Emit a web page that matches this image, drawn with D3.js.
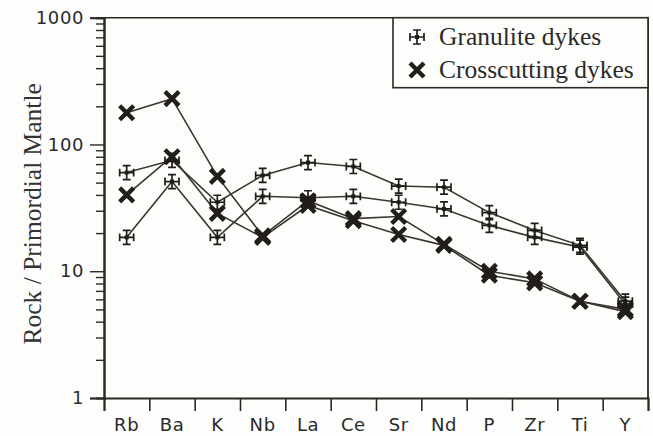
<!DOCTYPE html>
<html>
<head>
<meta charset="utf-8">
<script src="https://cdn.jsdelivr.net/npm/d3@7/dist/d3.min.js"></script>
<style>
  html, body { margin: 0; padding: 0; background: #fdfdfb; }
  svg { display: block; }
</style>
</head>
<body>
<svg id="chart" width="653" height="436"></svg>
<script>
// Trace elements, normalised to primordial mantle
const categories = ["Rb", "Ba", "K", "Nb", "La", "Ce", "Sr", "Nd", "P", "Zr", "Ti", "Y"];

// Granulite dykes (two samples)
const granulite1 = [60, 75, 35, 57, 72, 67, 47, 46, 29, 21, 16, 5.8];
const granulite2 = [18.5, 51, 18.5, 39, 38, 39, 35, 31, 23, 18.5, 15.5, 5.5];

// Crosscutting dykes (two samples)
const crosscut1 = [178, 230, 56, 19, 36, 26, 27, 16.3, 10, 8.7, 5.8, 5.0];
const crosscut2 = [40, 80, 28.6, 18.5, 33, 25, 19.5, 16, 9.3, 8.1, 5.8, 4.8];

const majorTicks = [1, 10, 100, 1000];
const legendLabels = ["Granulite dykes", "Crosscutting dykes"];

const svg = d3.select("#chart");
const plotLeft = 104, plotRight = 648, plotTop = 17.7, plotBottom = 398;
const ink = "#2b2824";

const x = d3.scaleBand().domain(categories).range([plotLeft, plotRight]);
const xEdge = d3.scaleLinear().domain([0, categories.length]).range([plotLeft, plotRight]);
const y = d3.scaleLog().domain([1, 1000]).range([plotBottom, plotTop]);

// Frame: top and right edges
svg.append("line").attr("x1", plotLeft).attr("x2", plotRight).attr("y1", plotTop).attr("y2", plotTop)
  .attr("stroke", ink).attr("stroke-width", 1.6);
svg.append("line").attr("x1", plotRight).attr("x2", plotRight).attr("y1", plotTop).attr("y2", plotBottom)
  .attr("stroke", ink).attr("stroke-width", 1.8);

// Minor log ticks
const minorTicks = [];
for (const dec of [1, 10, 100]) for (let m = 2; m <= 9; m++) minorTicks.push(dec * m);

const yMinor = svg.append("g").attr("transform", `translate(${plotLeft},0)`)
  .call(d3.axisLeft(y).tickValues(minorTicks).tickSize(8).tickFormat(""));
const yMajor = svg.append("g").attr("transform", `translate(${plotLeft},0)`)
  .call(d3.axisLeft(y).tickValues(majorTicks).tickSize(14).tickPadding(6).tickFormat(d3.format("d")));
[yMinor, yMajor].forEach(g => {
  g.select(".domain").attr("stroke", ink).attr("stroke-width", 2);
  g.selectAll(".tick line").attr("stroke", ink).attr("stroke-width", 1.4);
});
yMajor.selectAll(".tick text")
  .attr("font-family", "DejaVu Sans, sans-serif").attr("font-size", 18)
  .attr("letter-spacing", 0.6).attr("fill", "#2a2a2a");

// Bottom axis: ticks at category boundaries, labels centred in each band
const xTicks = svg.append("g").attr("transform", `translate(0,${plotBottom})`)
  .call(d3.axisBottom(xEdge).tickValues(d3.range(categories.length + 1)).tickSize(13).tickFormat(""));
xTicks.select(".domain").attr("stroke", ink).attr("stroke-width", 2);
xTicks.selectAll(".tick line").attr("stroke", ink).attr("stroke-width", 1.6);

const xLabels = svg.append("g").attr("transform", `translate(0,${plotBottom})`)
  .call(d3.axisBottom(x).tickSize(0).tickPadding(20));
xLabels.select(".domain").remove();
xLabels.selectAll(".tick text")
  .attr("font-family", "DejaVu Sans, sans-serif").attr("font-size", 18)
  .attr("letter-spacing", 0.6).attr("fill", "#2a2a2a");

// Y axis title
svg.append("text")
  .attr("transform", `translate(41,${(plotTop + plotBottom) / 2 + 6}) rotate(-90)`)
  .attr("text-anchor", "middle")
  .attr("font-family", "Liberation Serif, serif")
  .attr("font-size", 25.5).attr("fill", "#333")
  .text("Rock / Primordial Mantle");

// Marker shapes
const crossPatteePath = (s) => {
  const h = s / 2, b = s * 0.28;
  return `M${-h},0H${h}M0,${-h}V${h}` +
         `M${-h},${-b}V${b}M${h},${-b}V${b}` +
         `M${-b},${-h}H${b}M${-b},${h}H${b}`;
};
const xMarkPath = (s) => {
  const h = s / 2;
  return `M${-h},${-h}L${h},${h}M${-h},${h}L${h},${-h}`;
};

function drawMarker(g, type, cx, cy) {
  if (type === "granulite") {
    g.append("path").attr("d", crossPatteePath(14))
      .attr("transform", `translate(${cx},${cy})`)
      .attr("fill", "none").attr("stroke", "#1f1c19").attr("stroke-width", 1.7);
    g.append("rect").attr("x", cx - 2).attr("y", cy - 2).attr("width", 4).attr("height", 4)
      .attr("fill", "#1f1c19");
  } else {
    g.append("path").attr("d", xMarkPath(14))
      .attr("transform", `translate(${cx},${cy})`)
      .attr("fill", "none").attr("stroke", "#221f1b").attr("stroke-width", 4.4)
      .attr("stroke-linecap", "butt");
  }
}

const series = [
  { values: crosscut1, type: "cross" },
  { values: crosscut2, type: "cross" },
  { values: granulite1, type: "granulite" },
  { values: granulite2, type: "granulite" }
];

const line = d3.line()
  .x((d, i) => x(categories[i]) + x.bandwidth() / 2)
  .y(d => y(d));

const plot = svg.append("g");
series.forEach(s => {
  plot.append("path").datum(s.values).attr("d", line)
    .attr("fill", "none").attr("stroke", "#3a3631").attr("stroke-width", 1.6);
});
series.forEach(s => {
  const g = plot.append("g");
  s.values.forEach((v, i) => drawMarker(g, s.type, x(categories[i]) + x.bandwidth() / 2, y(v)));
});

// Legend
const legend = svg.append("g");
legend.append("rect").attr("x", 393).attr("y", plotTop).attr("width", plotRight - 393).attr("height", 70)
  .attr("fill", "#fdfdfb").attr("stroke", ink).attr("stroke-width", 1.6);
const legendTypes = ["granulite", "cross"];
legendLabels.forEach((lab, i) => {
  const cy = 37 + i * 33;
  drawMarker(legend, legendTypes[i], 417, cy);
  legend.append("text").attr("x", 439).attr("y", cy + 8)
    .attr("font-family", "Liberation Serif, serif")
    .attr("font-size", 25.5).attr("fill", "#2a2a2a")
    .text(lab);
});
</script>
</body>
</html>
